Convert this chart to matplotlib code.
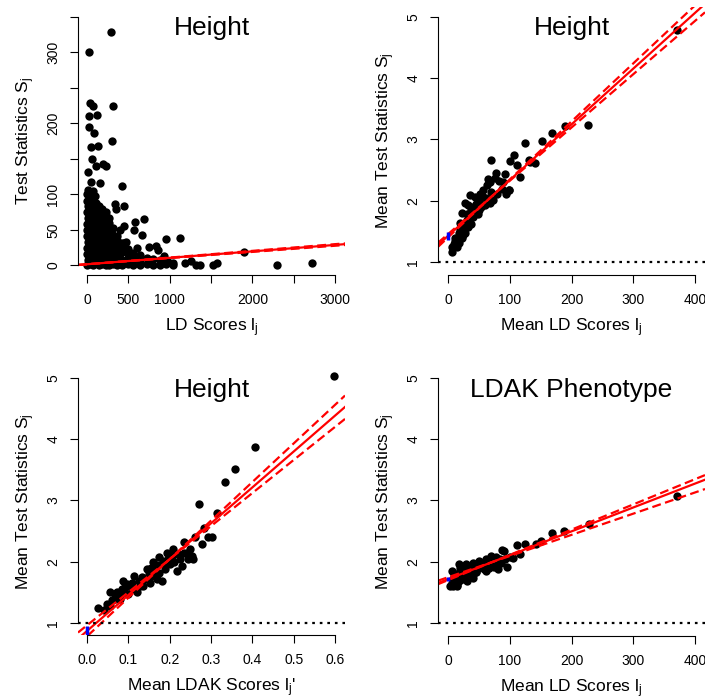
import matplotlib
matplotlib.use("Agg")
import matplotlib.pyplot as plt

plt.rcParams['font.family'] = 'Liberation Sans'
plt.rcParams['mathtext.fontset'] = 'custom'
plt.rcParams['mathtext.rm'] = 'Liberation Sans'
plt.rcParams['mathtext.default'] = 'regular'

# ---- panel 1: raw LD scores vs test statistics (height)
# dense mass near the origin, one column of snps per ld score
blob_points = [
    (3, 0), (6, 8), (1, 16), (4, 25), (8, 33), (2, 41), (5, 50), (0, 58), (7, 66), (3, 75), (9, 83), (4, 91), (2, 100), (6, 106),
    (35, 2), (38, 10), (31, 19), (36, 27), (40, 36), (33, 44), (37, 52), (30, 61), (39, 69), (34, 78), (41, 86), (32, 95), (36, 103),
    (70, 1), (73, 9), (66, 17), (71, 26), (75, 34), (68, 43), (72, 51), (65, 60), (74, 68), (69, 77), (76, 85), (67, 94), (71, 104),
    (105, 3), (108, 11), (101, 20), (106, 28), (110, 37), (103, 45), (107, 54), (100, 62), (109, 71), (104, 79), (111, 88), (102, 97),
    (145, 0), (148, 9), (141, 17), (146, 26), (150, 34), (143, 43), (147, 51), (140, 60), (149, 68), (144, 77), (151, 84),
    (185, 2), (188, 10), (181, 19), (186, 27), (190, 36), (183, 44), (187, 53), (180, 61), (189, 70), (184, 79),
    (225, 1), (228, 9), (221, 18), (226, 26), (230, 35), (223, 43), (227, 52), (220, 60), (229, 69), (224, 75),
    (265, 0), (268, 8), (261, 17), (266, 25), (270, 34), (263, 42), (267, 51), (260, 60), (269, 66),
    (310, 2), (313, 10), (306, 19), (311, 27), (315, 36), (308, 44), (312, 53),
    (360, 1), (363, 9), (356, 18), (361, 26), (365, 35), (358, 41),
    (420, 0), (423, 8), (416, 17), (421, 25), (425, 31),
    (490, 2), (493, 10), (486, 18), (491, 23),
    (560, 1), (563, 9), (556, 17),
    (640, 0), (643, 8), (636, 15),
    (720, 2), (723, 10),
    (800, 1), (803, 9),
    (880, 0), (883, 7),
    (960, 2), (963, 6),
    (1040, 1),
]
# scattered snps outside the dense mass
outlier_points = [
    (287, 328), (28, 300), (36, 229), (76, 225), (311, 225), (28, 210), (125, 211),
    (20, 195), (88, 187), (44, 166), (137, 168), (306, 175), (16, 132), (64, 149),
    (105, 140), (230, 140), (197, 142), (44, 118), (157, 116), (420, 112), (339, 86),
    (355, 79), (448, 83), (399, 50), (451, 55), (581, 61), (690, 65), (572, 50),
    (665, 43), (448, 32), (468, 33), (952, 37), (1125, 38), (601, 24), (754, 26),
    (835, 27), (862, 21), (935, 13), (1899, 19), (2295, 0.5), (2718, 3), (1528, 0.5),
    (1576, 3), (1186, 3), (1254, 6.5), (1315, 0.5), (1367, 0.5), (1044, 3), (984, 5),
]

# ---- panel 2: binned mean LD scores vs mean test statistics (height)
height_ld_bins = [
    (371, 4.79), (227, 3.24), (189, 3.22), (168, 3.11), (153, 2.98), (125, 2.95),
    (69, 2.67), (107, 2.74), (101, 2.65), (111, 2.58), (141, 2.61), (132, 2.64),
    (117, 2.39), (92, 2.44), (76, 2.37), (83, 2.33), (68, 2.31), (63, 2.26),
    (99, 2.18), (87, 2.19), (52, 2.12), (44, 2.06), (57, 2.07), (73, 2.01),
    (68, 1.96), (60, 1.93), (33, 1.93), (27, 1.96), (38, 1.85), (51, 1.85),
    (22, 1.80), (41, 1.74), (30, 1.69), (19, 1.64), (33, 1.58), (25, 1.53),
    (17, 1.47), (22, 1.39), (11, 1.34), (17, 1.31), (6, 1.25), (6, 1.17),
    (14, 1.25), (28, 1.47), (38, 1.63), (46, 1.80), (54, 1.90), (80, 2.12),
    (89, 2.31), (94, 2.12), (77, 2.45), (131, 2.67), (98, 2.18), (12, 1.40),
    (20, 1.55), (26, 1.62), (35, 1.72), (45, 1.95), (50, 2.00), (62, 2.05),
    (70, 2.15), (9, 1.30), (24, 1.45), (30, 1.78), (40, 1.90), (48, 1.78),
    (56, 2.18), (64, 2.35), (36, 2.10),
]

# ---- panel 3: binned mean LDAK scores vs mean test statistics (height)
height_ldak_bins = [
    (0.598, 5.03), (0.406, 3.88), (0.358, 3.51), (0.334, 3.30), (0.271, 2.94),
    (0.315, 2.80), (0.284, 2.55), (0.277, 2.29), (0.293, 2.41), (0.302, 2.41),
    (0.261, 2.40), (0.235, 2.33), (0.257, 2.04), (0.225, 2.04), (0.209, 2.21),
    (0.193, 2.15), (0.175, 2.07), (0.189, 1.88), (0.201, 1.96), (0.217, 1.85),
    (0.229, 1.93), (0.160, 1.99), (0.144, 1.88), (0.181, 1.69), (0.157, 1.77),
    (0.132, 1.75), (0.113, 1.77), (0.136, 1.61), (0.108, 1.66), (0.092, 1.58),
    (0.088, 1.69), (0.120, 1.50), (0.100, 1.48), (0.072, 1.50), (0.056, 1.50),
    (0.068, 1.39), (0.048, 1.31), (0.027, 1.24), (0.041, 1.22), (0.056, 1.28),
    (0.080, 1.39), (0.084, 1.55), (0.153, 1.66), (0.169, 1.72), (0.205, 2.10),
    (0.242, 2.15), (0.253, 2.10), (0.185, 1.96), (0.128, 1.61), (0.096, 1.64),
    (0.068, 1.47), (0.110, 1.55), (0.125, 1.68), (0.140, 1.72), (0.150, 1.80),
    (0.165, 1.85), (0.170, 1.95), (0.185, 2.02), (0.195, 2.05), (0.210, 2.00),
    (0.220, 2.12), (0.235, 2.15), (0.245, 2.05), (0.250, 2.20), (0.130, 1.65),
    (0.105, 1.60), (0.090, 1.50), (0.080, 1.45), (0.060, 1.38), (0.155, 1.90),
    (0.175, 1.82),
]

# ---- panel 4: binned mean LD scores vs mean test statistics (LDAK phenotype)
ldak_pheno_bins = [
    (371, 3.08), (228, 2.62), (188, 2.50), (168, 2.47), (151, 2.34), (142, 2.29),
    (125, 2.29), (112, 2.27), (117, 2.13), (106, 2.06), (96, 1.91), (81, 1.88),
    (90, 2.18), (101, 2.07), (77, 2.07), (69, 2.10), (61, 2.04), (50, 2.01),
    (40, 1.98), (29, 1.96), (18, 1.96), (26, 1.88), (37, 1.91), (53, 1.93),
    (6, 1.85), (9, 1.77), (6, 1.66), (4, 1.61), (15, 1.61), (12, 1.72),
    (23, 1.77), (31, 1.69), (45, 1.83), (61, 1.85), (72, 1.93), (86, 1.98),
    (34, 1.83), (20, 1.85), (88, 2.20), (8, 1.70), (12, 1.80), (16, 1.75),
    (22, 1.82), (28, 1.78), (34, 1.86), (42, 1.88), (48, 1.90), (55, 1.95),
    (63, 1.95), (70, 2.00), (78, 2.00), (85, 2.05), (92, 2.05), (10, 1.65),
    (18, 1.68), (25, 1.72), (38, 1.80), (46, 1.84), (58, 1.88), (66, 1.90),
    (74, 1.92), (20, 1.90), (30, 1.92), (44, 1.95), (52, 1.97), (60, 1.99),
    (14, 1.62), (8, 1.60), (40, 1.74),
]

# regression fits: (intercept, slope) for estimate, upper, lower
height_ld_fit = [(1.43, 0.00908), (1.404, 0.00945), (1.459, 0.00868)]
height_ldak_fit = [(0.87, 5.86), (0.782, 6.30), (0.962, 5.40)]
pheno_ld_fit = [(1.716, 0.0039), (1.70, 0.00412), (1.747, 0.00346)]
# intercept interval shown in blue at x = 0
height_ld_int = (1.37, 1.49)
height_ldak_int = (0.80, 0.95)
pheno_ld_int = (1.69, 1.75)

W, H = 705, 698
fig = plt.figure(figsize=(W / 100, H / 100), dpi=100)


def make_axes(left, top, right, bottom):
    ax = fig.add_axes([left / W, 1 - bottom / H, (right - left) / W, (bottom - top) / H])
    ax.patch.set_visible(False)
    return ax, right - left, bottom - top


def r_style(ax, wpx, hpx, xticks, xlabels, yticks, ylabels, xlabel, ylabel, title):
    for s in ['top', 'right']:
        ax.spines[s].set_visible(False)
    for s in ['left', 'bottom']:
        ax.spines[s].set_linewidth(0.8)
    ax.spines['left'].set_bounds(yticks[0], yticks[-1])
    ax.spines['bottom'].set_bounds(xticks[0], xticks[-1])
    ax.set_xticks(xticks, xlabels)
    ax.set_yticks(yticks, ylabels)
    ax.tick_params(length=5.8, width=0.8, pad=7, labelsize=10)
    for t in ax.get_yticklabels():
        t.set_rotation(90)
        t.set_va('center')
    ax.set_xlabel(xlabel, fontsize=12.5)
    ax.set_ylabel(ylabel, fontsize=12.5)
    ax.xaxis.set_label_coords(0.5, -41 / hpx)
    ax.yaxis.set_label_coords(-41 / wpx, 0.5)
    ax.text(0.5, 1 - 28.5 / hpx, title, transform=ax.transAxes,
            ha='center', va='baseline', fontsize=19)


def draw_points(ax, pts):
    xs = [p[0] for p in pts]
    ys = [p[1] for p in pts]
    ax.plot(xs, ys, 'o', color='black', ms=6, mew=0, clip_on=False)


def draw_fit(ax, fit, interval=None):
    x0, x1 = ax.get_xlim()
    for i, (a, b) in enumerate(fit):
        ls = '-' if i == 0 else (0, (4, 2))
        ax.plot([x0, x1], [a + b * x0, a + b * x1], color='red', lw=1.6, ls=ls)
    ax.set_xlim(x0, x1)
    if interval is not None:
        ax.plot([0, 0], interval, color='blue', lw=2.5, solid_capstyle='butt')


def draw_null(ax):
    ax.axhline(1, color='black', lw=1.6, ls=(0, (1.2, 2.2)))


# panel 1
ax, w, h = make_axes(78, 7, 345, 275)
ax.set_xlim(-109, 3120)
ax.set_ylim(-13.7, 363.8)
draw_points(ax, blob_points)
draw_points(ax, outlier_points)
draw_fit(ax, height_ld_fit)
ax.set_ylim(-13.7, 363.8)
r_style(ax, w, h, [0, 500, 1000, 1500, 2000, 2500, 3000],
        ['0', '500', '1000', '', '2000', '', '3000'],
        [0, 50, 100, 150, 200, 250, 300, 350],
        ['0', '50', '100', '', '200', '', '300', ''],
        'LD Scores $l_j$', 'Test Statistics $S_j$', 'Height')

# panel 2
ax, w, h = make_axes(438, 7, 705, 275)
ax.set_xlim(-16.2, 416.2)
ax.set_ylim(0.793, 5.158)
draw_points(ax, height_ld_bins)
draw_fit(ax, height_ld_fit, height_ld_int)
draw_null(ax)
ax.set_ylim(0.793, 5.158)
r_style(ax, w, h, [0, 100, 200, 300, 400], ['0', '100', '200', '300', '400'],
        [1, 2, 3, 4, 5], ['1', '2', '3', '4', '5'],
        'Mean LD Scores $l_j$', 'Mean Test Statistics $S_j$', 'Height')

# panel 3
ax, w, h = make_axes(78, 368, 345, 635)
ax.set_xlim(-0.0218, 0.624)
ax.set_ylim(0.804, 5.163)
draw_points(ax, height_ldak_bins)
draw_fit(ax, height_ldak_fit, height_ldak_int)
draw_null(ax)
ax.set_ylim(0.804, 5.163)
r_style(ax, w, h, [0, 0.1, 0.2, 0.3, 0.4, 0.5, 0.6],
        ['0.0', '0.1', '0.2', '0.3', '0.4', '0.5', '0.6'],
        [1, 2, 3, 4, 5], ['1', '2', '3', '4', '5'],
        "Mean LDAK Scores $l_j$'", 'Mean Test Statistics $S_j$', 'Height')

# panel 4
ax, w, h = make_axes(438, 368, 705, 636)
ax.set_xlim(-16.2, 416.2)
ax.set_ylim(0.788, 5.163)
draw_points(ax, ldak_pheno_bins)
draw_fit(ax, pheno_ld_fit, pheno_ld_int)
draw_null(ax)
ax.set_ylim(0.788, 5.163)
r_style(ax, w, h, [0, 100, 200, 300, 400], ['0', '100', '200', '300', '400'],
        [1, 2, 3, 4, 5], ['1', '2', '3', '4', '5'],
        'Mean LD Scores $l_j$', 'Mean Test Statistics $S_j$', 'LDAK Phenotype')

fig.savefig('out.png', dpi=100)
